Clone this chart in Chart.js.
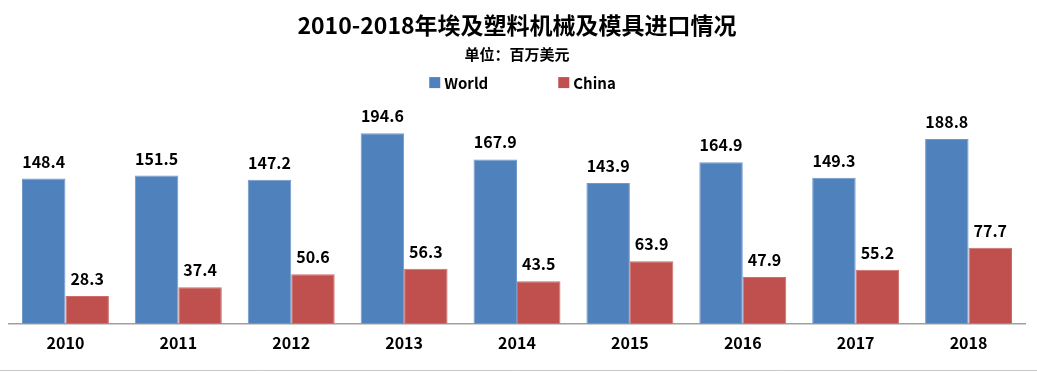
<!DOCTYPE html>
<html>
<head>
<meta charset="utf-8">
<script src="https://cdn.jsdelivr.net/npm/chart.js@4"></script>
<style>
  html, body { margin: 0; padding: 0; background: #fff; }
  #wrap { width: 1037px; height: 374px; }
</style>
</head>
<body>
<div id="wrap"><canvas id="myChart"></canvas></div>
<script>
const years = ['2010', '2011', '2012', '2013', '2014', '2015', '2016', '2017', '2018'];
const world = [148.4, 151.5, 147.2, 194.6, 167.9, 143.9, 164.9, 149.3, 188.8];
const china = [28.3, 37.4, 50.6, 56.3, 43.5, 63.9, 47.9, 55.2, 77.7];

const fontFamily = '"Noto Sans CJK SC", "Liberation Sans", sans-serif';

// value labels above each bar
const valueLabels = {
    id: 'valueLabels',
    afterDatasetsDraw(chart) {
        const ctx = chart.ctx;
        ctx.save();
        ctx.font = 'bold 16px ' + fontFamily;
        ctx.fillStyle = '#000';
        ctx.textAlign = 'center';
        ctx.textBaseline = 'bottom';
        chart.data.datasets.forEach((ds, i) => {
            chart.getDatasetMeta(i).data.forEach((bar, j) => {
                ctx.fillText(ds.data[j].toFixed(1), bar.x, bar.y - 9);
            });
        });
        ctx.restore();
    }
};

// legend with a wide gap between the two items
const wideLegend = {
    id: 'wideLegend',
    afterDraw(chart) {
        const ctx = chart.ctx;
        const box = 11, gapText = 4, gapItem = 70;
        ctx.save();
        ctx.font = 'bold 15px ' + fontFamily;
        ctx.textBaseline = 'middle';
        const items = chart.data.datasets.map(ds => ({
            text: ds.label, color: ds.backgroundColor, w: ctx.measureText(ds.label).width
        }));
        let total = 0;
        items.forEach((it, i) => { total += box + gapText + it.w + (i ? gapItem : 0); });
        let x = chart.width / 2 + 4 - total / 2;
        const y = chart.chartArea.top - 17;
        items.forEach(it => {
            ctx.fillStyle = it.color;
            ctx.fillRect(x, y - box / 2, box, box);
            ctx.fillStyle = '#000';
            ctx.textAlign = 'left';
            ctx.fillText(it.text, x + box + gapText, y + 1);
            x += box + gapText + it.w + gapItem;
        });
        ctx.restore();
    }
};

// grey line at the very bottom, like the sheet border in the picture
const bottomLine = {
    id: 'bottomLine',
    afterDraw(chart) {
        const ctx = chart.ctx;
        ctx.save();
        ctx.strokeStyle = '#c8c8c8';
        ctx.lineWidth = 1;
        ctx.beginPath();
        ctx.moveTo(0, 370.5);
        ctx.lineTo(chart.width, 370.5);
        ctx.stroke();
        ctx.restore();
    }
};

const ctx = document.getElementById('myChart').getContext('2d');

new Chart(ctx, {
    type: 'bar',
    data: {
        labels: years,
        datasets: [{
            label: 'World',
            data: world,
            backgroundColor: '#4F81BD',
            borderColor: '#7199ca',
            borderWidth: 1
        }, {
            label: 'China',
            data: china,
            backgroundColor: '#C0504D',
            borderColor: '#cb6d6a',
            borderWidth: 1
        }]
    },
    options: {
        responsive: true,
        maintainAspectRatio: false,
        animation: false,
        layout: {
            padding: { left: 9, right: 12, top: 8, bottom: 11 }
        },
        datasets: {
            bar: { categoryPercentage: 0.77, barPercentage: 1.0 }
        },
        plugins: {
            title: {
                display: true,
                text: '2010-2018年埃及塑料机械及模具进口情况',
                color: '#000',
                font: { family: fontFamily, size: 23, weight: 'bold' },
                padding: { top: 3, bottom: 7 }
            },
            subtitle: {
                display: true,
                text: '单位：百万美元',
                color: '#000',
                font: { family: fontFamily, size: 15, weight: 'bold' },
                padding: { top: 0, bottom: 36 }
            },
            legend: { display: false },
            tooltip: { enabled: false }
        },
        scales: {
            x: {
                grid: { display: false, drawTicks: false },
                border: { display: true, color: '#a0a0a0', width: 1.5 },
                ticks: {
                    color: '#000',
                    padding: 10,
                    font: { family: fontFamily, size: 16, weight: 'bold' }
                }
            },
            y: {
                display: false,
                min: 0,
                max: 229
            }
        }
    },
    plugins: [valueLabels, wideLegend, bottomLine]
});
</script>
</body>
</html>
